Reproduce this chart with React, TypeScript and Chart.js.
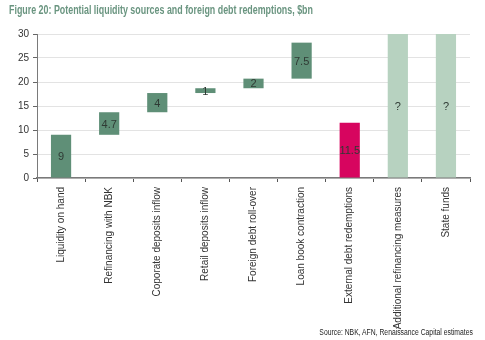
import React, { useEffect, useRef } from "react";
import { Chart, registerables } from "chart.js";

Chart.register(...registerables);

const categories = [
  "Liquidity on hand",
  "Refinancing with NBK",
  "Coporate deposits inflow",
  "Retail deposits inflow",
  "Foreign debt roll-over",
  "Loan book contraction",
  "External debt redemptions",
  "Additional refinancing measures",
  "State funds",
];
const barBase = [0, 9, 13.7, 17.7, 18.7, 20.7, 0, 0, 0];
const barTop = [9, 13.7, 17.7, 18.7, 20.7, 28.2, 11.5, 30, 30];
const valueLabels = ["9", "4.7", "4", "1", "2", "7.5", "11.5", "?", "?"];
const barColors = [
  "#5f8f77", "#5f8f77", "#5f8f77", "#5f8f77", "#5f8f77", "#5f8f77",
  "#d7055f", "#b7d2c0", "#b7d2c0",
];
const yTicks = [0, 5, 10, 15, 20, 25, 30];

const labelPlugin = {
  id: "valueLabels",
  afterDatasetsDraw(chart: any) {
    const meta = chart.getDatasetMeta(0);
    const ctx = chart.ctx;
    ctx.save();
    ctx.font = "11px 'Liberation Sans', Arial, sans-serif";
    ctx.fillStyle = "#2f3a34";
    ctx.textAlign = "center";
    ctx.textBaseline = "middle";
    meta.data.forEach((el: any, i: number) => {
      const { x, y, base } = el.getProps(["x", "y", "base"], true);
      ctx.fillText(valueLabels[i], x, (y + base) / 2 + 1);
    });
    ctx.restore();
  },
};

export default function App() {
  const ref = useRef<HTMLCanvasElement>(null);
  useEffect(() => {
    if (!ref.current) return;
    const chart = new Chart(ref.current, {
      type: "bar",
      data: {
        labels: categories,
        datasets: [
          {
            data: categories.map((_, i) => [barBase[i], barTop[i]]) as any,
            backgroundColor: barColors,
            borderWidth: 0,
            barPercentage: 0.42,
            categoryPercentage: 1,
          },
        ],
      },
      options: {
        animation: false,
        responsive: false,
        maintainAspectRatio: false,
        layout: { padding: { top: 34, left: 8, right: 15, bottom: 0 } },
        plugins: {
          legend: { display: false },
          tooltip: { enabled: false },
        },
        scales: {
          x: {
            grid: {
              display: true,
              offset: true,
              drawOnChartArea: false,
              drawTicks: true,
              tickLength: 4,
              tickColor: "#555",
            },
            border: { color: "#7a7a7a", width: 1.5 },
            ticks: {
              minRotation: 90,
              maxRotation: 90,
              autoSkip: false,
              padding: 5,
              color: "#333",
              font: { family: "'Liberation Sans', Arial, sans-serif", size: 10 },
            },
            afterFit: (s: any) => {
              s.height = 162;
            },
          },
          y: {
            min: 0,
            max: 30,
            afterBuildTicks: (s: any) => {
              s.ticks = yTicks.map((v) => ({ value: v }));
            },
            grid: {
              color: "#e3e3e3",
              tickColor: "#666",
              tickLength: 4,
            },
            border: { color: "#7a7a7a", width: 1 },
            ticks: {
              padding: 4,
              color: "#333",
              font: { family: "'Liberation Sans', Arial, sans-serif", size: 10 },
            },
            afterFit: (s: any) => {
              s.width = 29;
            },
          },
        },
      },
      plugins: [labelPlugin],
    });
    return () => chart.destroy();
  }, []);

  return (
    <div style={{ position: "absolute", left: 0, top: 0, width: 485, height: 340, background: "#fff" }}>
      <canvas ref={ref} width={485} height={340} style={{ position: "absolute", left: 0, top: 0 }} />
      <div
        style={{
          position: "absolute",
          left: 9,
          top: 3,
          fontFamily: "'Liberation Sans Narrow', 'Arial Narrow', 'Liberation Sans', sans-serif",
          fontWeight: "bold",
          fontSize: 12,
          color: "#6a9580",
          whiteSpace: "nowrap",
          transform: "scaleX(0.74)",
          transformOrigin: "left top",
        }}
      >
        Figure 20: Potential liquidity sources and foreign debt redemptions, $bn
      </div>
      <div
        style={{
          position: "absolute",
          right: 12,
          top: 327,
          fontFamily: "'Liberation Sans Narrow', 'Arial Narrow', 'Liberation Sans', sans-serif",
          fontSize: 8.5,
          color: "#222",
          whiteSpace: "nowrap",
          transform: "scaleX(0.8)",
          transformOrigin: "right top",
        }}
      >
        Source: NBK, AFN, Renaissance Capital estimates
      </div>
    </div>
  );
}
